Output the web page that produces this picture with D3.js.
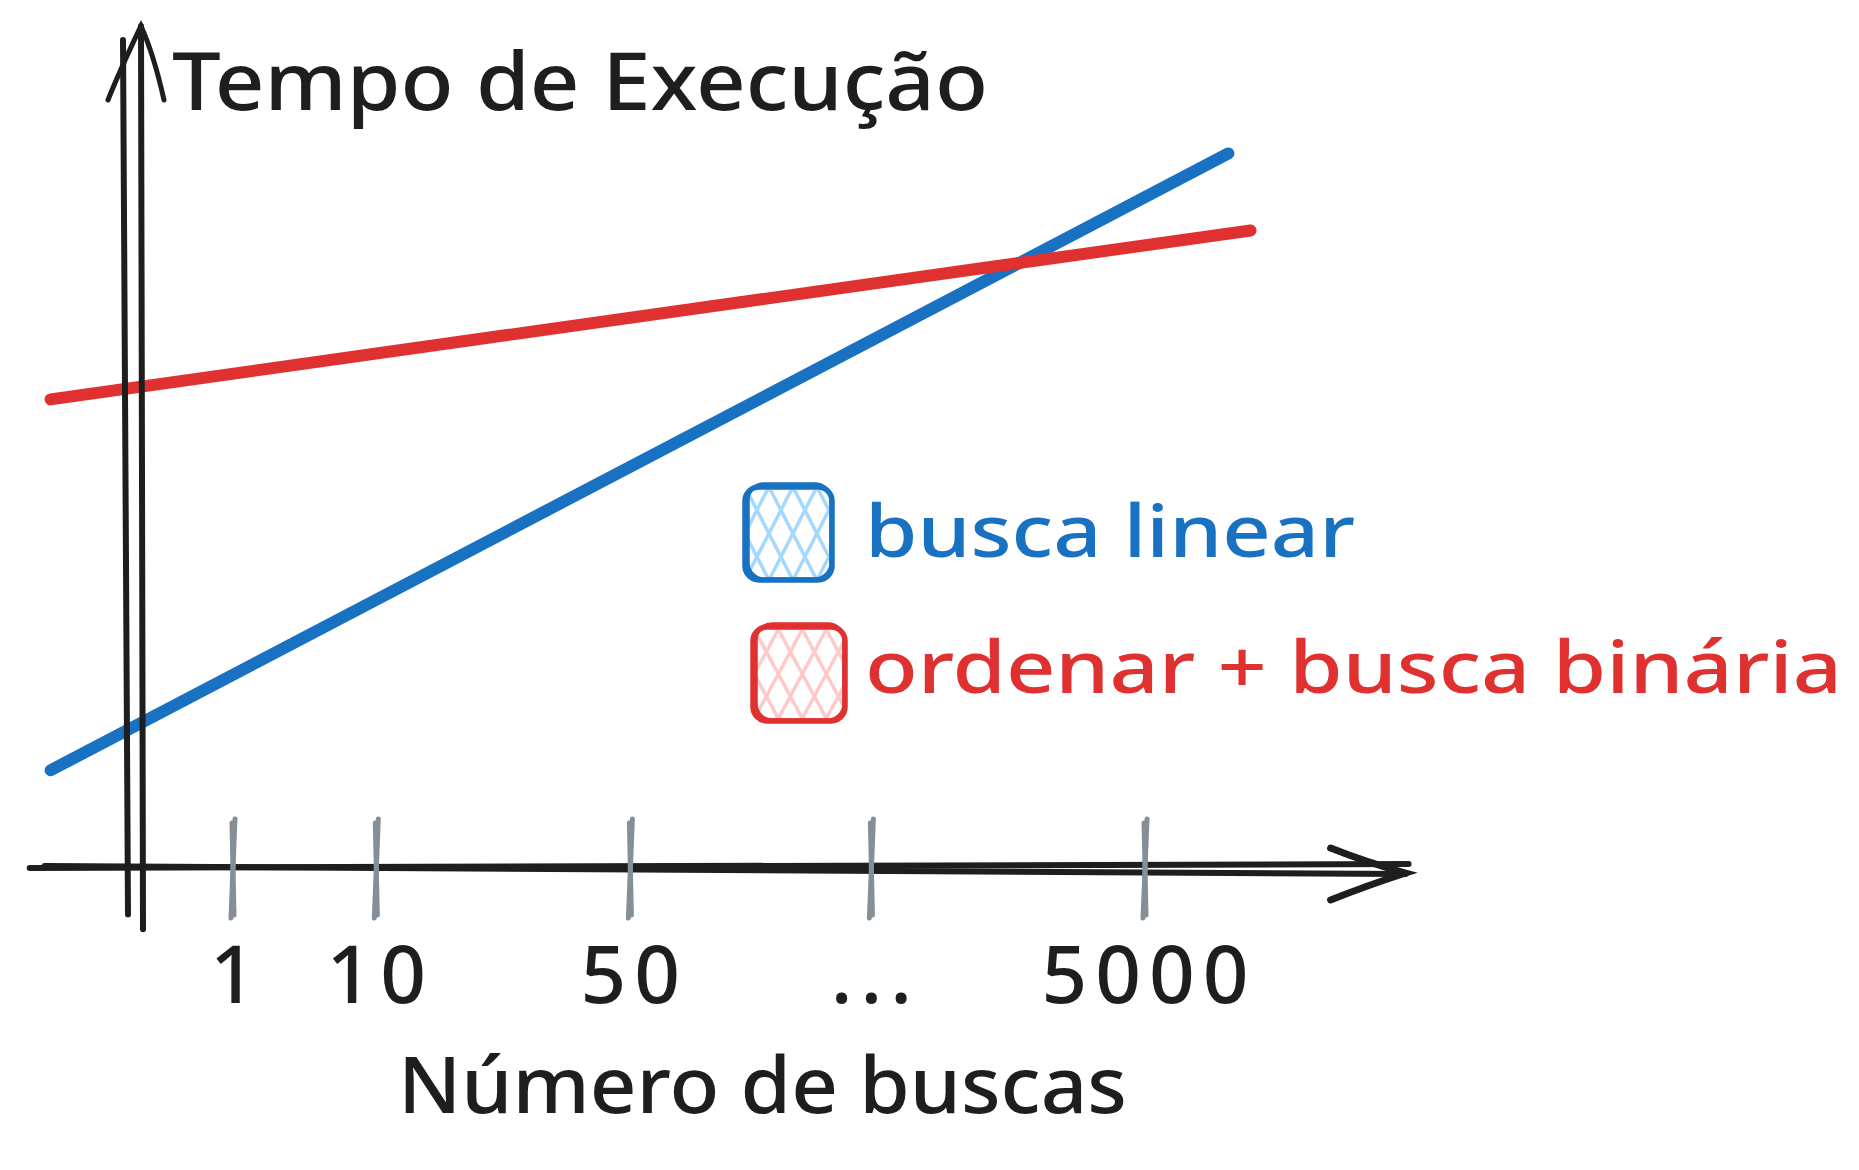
<!DOCTYPE html>
<html>
<head>
<meta charset="utf-8">
<script src="https://cdn.jsdelivr.net/npm/d3@7"></script>
<style>
  html, body { margin: 0; padding: 0; background: #ffffff; }
  svg { display: block; }
  text { font-family: "Noto Sans", sans-serif; font-weight: 500; }
</style>
</head>
<body>
<svg id="chart" width="1859" height="1170"></svg>
<script>
// ---------- data ----------
const tickLabels = ["1", "10", "50", "...", "5000"];
const tickPositions = [1, 2.1, 4.05, 5.9, 8];          // abstract x positions
const seriesNames = ["busca linear", "ordenar + busca binária"];
const seriesColors = ["#1971c2", "#e03131"];
const seriesFill = ["#a5d8ff", "#ffc9c9"];
const linearSearch = [{x: -0.4, y: 11.8}, {x: 8.64, y: 86.3}];
const sortBinary   = [{x: -0.4, y: 56.6}, {x: 8.81, y: 77.0}];
const yTitle = "Tempo de Execução";
const xTitle = "Número de buscas";

// ---------- scales ----------
const svg = d3.select("#chart");
const x = d3.scaleLinear().domain([0, 10]).range([102.7, 1405.6]);
const y = d3.scaleLinear().domain([0, 100]).range([868, 40]);
const ink = "#1e1e1e";

// ---------- series lines ----------
const line = d3.line().x(d => x(d.x)).y(d => y(d.y));
[linearSearch, sortBinary].forEach((s, i) => {
  svg.append("path").datum(s)
    .attr("d", line)
    .attr("fill", "none")
    .attr("stroke", seriesColors[i])
    .attr("stroke-width", 12)
    .attr("stroke-linecap", "round");
});

// ---------- y axis (hand-drawn double stroke arrow) ----------
const yAx = svg.append("g");
yAx.append("line").attr("x1", 123).attr("y1", y(100)).attr("x2", 128).attr("y2", y(-5.6))
  .attr("stroke", ink).attr("stroke-width", 6).attr("stroke-linecap", "round");
yAx.append("line").attr("x1", 141).attr("y1", y(101.7)).attr("x2", 143).attr("y2", y(-7.4))
  .attr("stroke", ink).attr("stroke-width", 6).attr("stroke-linecap", "round");
yAx.append("path")
  .attr("d", `M108,100 Q120,70 141,${y(101.7)} Q154,55 164,100`)
  .attr("fill", "none").attr("stroke", ink).attr("stroke-width", 5).attr("stroke-linecap", "round");

// ---------- x axis ----------
const xAx = svg.append("g");
const x0 = x.range()[0] - 73, x1 = x.range()[1];
xAx.append("line").attr("x1", x0).attr("y1", y(0)).attr("x2", x1 + 3).attr("y2", y(0) - 4)
  .attr("stroke", ink).attr("stroke-width", 6).attr("stroke-linecap", "round");
xAx.append("line").attr("x1", x0 + 15).attr("y1", y(0) - 2).attr("x2", x1).attr("y2", y(0) + 6)
  .attr("stroke", ink).attr("stroke-width", 6).attr("stroke-linecap", "round");
xAx.append("path")
  .attr("d", `M${x1 - 75},${y(0) - 20} Q${x1 - 40},${y(0) - 6} ${x1},${y(0) + 5} Q${x1 - 40},${y(0) + 18} ${x1 - 75},${y(0) + 32}`)
  .attr("fill", "none").attr("stroke", ink).attr("stroke-width", 7).attr("stroke-linecap", "round");

// ticks
const ticks = svg.append("g");
tickPositions.forEach((p, i) => {
  const tx = x(p);
  ticks.append("line").attr("x1", tx + 2).attr("y1", y(0) - 49).attr("x2", tx - 2).attr("y2", y(0) + 50)
    .attr("stroke", "#868e96").attr("stroke-width", 5).attr("stroke-linecap", "round");
  ticks.append("line").attr("x1", tx - 1).attr("y1", y(0) - 45).attr("x2", tx + 1).attr("y2", y(0) + 47)
    .attr("stroke", "#868e96").attr("stroke-width", 5).attr("stroke-linecap", "round");
  ticks.append("text").attr("x", tx + 4).attr("y", 1003)
    .attr("text-anchor", "middle").attr("font-size", 80).attr("fill", ink)
    .attr("letter-spacing", 8)
    .text(tickLabels[i]);
});

// ---------- titles ----------
svg.append("text").attr("x", 172).attr("y", 110)
  .attr("font-size", 80).attr("fill", ink)
  .attr("textLength", 816).attr("lengthAdjust", "spacingAndGlyphs")
  .text(yTitle);
svg.append("text").attr("x", 398).attr("y", 1113)
  .attr("font-size", 78).attr("fill", ink)
  .attr("textLength", 729).attr("lengthAdjust", "spacingAndGlyphs")
  .text(xTitle);

// ---------- legend ----------
const legendBoxes = [{x: 745, y: 487, w: 87, h: 93}, {x: 753, y: 627, w: 92, h: 94}];
const legendText = [{x: 865, y: 557, len: 490}, {x: 865, y: 693, len: 977}];
const defs = svg.append("defs");
seriesNames.forEach((name, i) => {
  const b = legendBoxes[i];
  const g = svg.append("g");
  defs.append("clipPath").attr("id", "clip" + i)
    .append("rect").attr("x", b.x + 3).attr("y", b.y + 3).attr("width", b.w - 6).attr("height", b.h - 6).attr("rx", 10);
  const hatch = g.append("g").attr("clip-path", `url(#clip${i})`);
  const step = 24;
  d3.range(-6, 8).forEach(k => {
    const sx = b.x + k * step;
    hatch.append("line").attr("x1", sx).attr("y1", b.y + b.h).attr("x2", sx + b.w * 0.55).attr("y2", b.y)
      .attr("stroke", seriesFill[i]).attr("stroke-width", 3.5);
    hatch.append("line").attr("x1", sx).attr("y1", b.y).attr("x2", sx + b.w * 0.55).attr("y2", b.y + b.h)
      .attr("stroke", seriesFill[i]).attr("stroke-width", 3.5);
  });
  g.append("rect").attr("x", b.x).attr("y", b.y).attr("width", b.w).attr("height", b.h).attr("rx", 14)
    .attr("fill", "none").attr("stroke", seriesColors[i]).attr("stroke-width", 5.5);
  g.append("rect").attr("x", b.x + 3).attr("y", b.y - 3).attr("width", b.w - 4).attr("height", b.h + 2).attr("rx", 16)
    .attr("fill", "none").attr("stroke", seriesColors[i]).attr("stroke-width", 3.5);
  g.append("text").attr("x", legendText[i].x).attr("y", legendText[i].y)
    .attr("font-size", 72).attr("fill", seriesColors[i])
    .attr("textLength", legendText[i].len).attr("lengthAdjust", "spacingAndGlyphs")
    .text(name);
});
</script>
</body>
</html>
